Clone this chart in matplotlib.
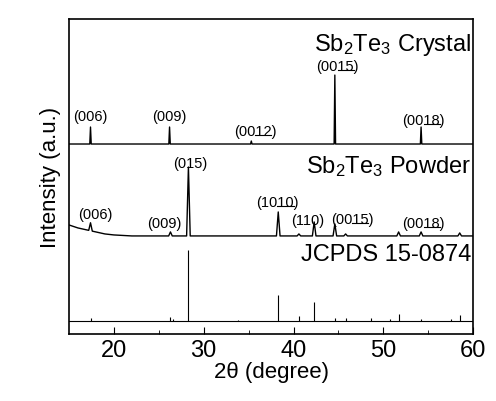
import matplotlib
matplotlib.use("Agg")
import matplotlib.pyplot as plt
import numpy as np
from matplotlib.lines import Line2D

plt.rcParams['font.family'] = ['Liberation Sans', 'DejaVu Sans']
plt.rcParams['mathtext.fontset'] = 'custom'
plt.rcParams['mathtext.rm'] = 'Liberation Sans'
plt.rcParams['mathtext.it'] = 'Liberation Sans'

# Crystal
cry_base = 190
cry_x = [17.4, 26.2, 35.3, 44.6, 54.2]
cry_h = [17, 17, 3, 69, 17]
cry_lab_x = [17.4, 26.2, 35.7, 44.9, 54.5]
cry_lab_y = [211, 211, 196, 261, 207]
cry_lab = [("(006)", ""), ("(009)", ""), ("(0012)", "12"), ("(0015)", "15"), ("(0018)", "18")]
# Powder
pow_bg_x = [15, 16, 17, 18, 19, 20, 22, 25, 60]
pow_bg_y = [109, 106, 104, 102, 100, 99, 98, 98, 98]
pow_x = [17.4, 26.3, 28.3, 38.3, 40.6, 42.3, 44.6, 45.8, 51.7, 54.2, 58.5]
pow_h = [8, 4, 69, 24, 2, 14, 12, 2, 4, 4, 3]
pow_lab_x = [17.9, 25.6, 28.5, 38.2, 41.6, 46.5, 54.5]
pow_lab_y = [113, 104, 164, 125, 107, 108, 104]
pow_lab = [("(006)", ""), ("(009)", ""), ("(015)", ""), ("(1010)", "10"), ("(110)", ""), ("(0015)", "15"), ("(0018)", "18")]
# JCPDS
ref_base = 13
ref_x = [17.4, 26.2, 26.6, 28.3, 33.8, 38.3, 40.6, 42.3, 44.6, 45.8, 48.6, 50.7, 51.7, 54.2, 57.5, 58.5]
ref_h = [3, 4, 2, 71, 1, 26, 5, 19, 3, 3, 3, 2, 7, 2, 2, 6]

fig = plt.figure(figsize=(4.96, 4.02), dpi=100)
ax = fig.add_axes([0.139, 0.167, 0.815, 0.783])
ax.set_xlim(15, 60)
ax.set_ylim(0, 315)

def peak_curve(xs, hs, base_x, base_y, w):
    X = list(base_x); Y = list(base_y)
    for x, h in zip(xs, hs):
        b = float(np.interp(x, base_x, base_y))
        X += [x - w, x, x + w]
        Y += [float(np.interp(x - w, base_x, base_y)), b + h, float(np.interp(x + w, base_x, base_y))]
    order = np.argsort(X, kind="stable")
    return np.array(X)[order], np.array(Y)[order]

cx, cy = peak_curve(cry_x, cry_h, [15, 60], [cry_base, cry_base], 0.08)
ax.plot(cx, cy, color="black", lw=1.0)
px, py = peak_curve(pow_x, pow_h, pow_bg_x, pow_bg_y, 0.2)
ax.plot(px, py, color="black", lw=1.0)
ax.axhline(ref_base, color="black", lw=0.8)
ax.vlines(ref_x, ref_base, [ref_base + h for h in ref_h], color="black", lw=0.8)

renderer = fig.canvas.get_renderer()
labels = list(zip(cry_lab_x, cry_lab_y, cry_lab)) + list(zip(pow_lab_x, pow_lab_y, pow_lab))
FS = 10.5
for x, y, (s, u) in labels:
    t = ax.text(x, y, s, ha="center", va="bottom", fontsize=FS)
    if u:
        bb = t.get_window_extent(renderer)
        pre = s[: s.rfind(u)]
        tp = fig.text(0, 0, pre, fontsize=FS)
        tu = fig.text(0, 0, pre + u, fontsize=FS)
        w0 = tp.get_window_extent(renderer).width
        w1 = tu.get_window_extent(renderer).width
        tp.remove(); tu.remove()
        yb = bb.y0 + 3.2
        inv = fig.transFigure.inverted()
        (fx0, fy), (fx1, _) = inv.transform([(bb.x0 + w0, yb), (bb.x0 + w1, yb)])
        fig.add_artist(Line2D([fx0, fx1], [fy, fy], color="black", lw=0.8))

ax.text(59.8, 290, r"Sb$_2$Te$_3$ Crystal", ha="right", va="center", fontsize=17)
ax.text(59.8, 168, r"Sb$_2$Te$_3$ Powder", ha="right", va="center", fontsize=17)
ax.text(59.8, 80, "JCPDS 15-0874", ha="right", va="center", fontsize=17)

ax.set_xticks([20, 30, 40, 50, 60])
ax.set_xticks([25, 35, 45, 55], minor=True)
ax.tick_params(axis="x", which="both", direction="in", labelsize=17)
ax.tick_params(axis="x", which="major", length=5)
ax.tick_params(axis="x", which="minor", length=3)
ax.set_yticks([])
ax.set_xlabel("2θ (degree)", fontsize=16, labelpad=0)
ax.set_ylabel("Intensity (a.u.)", fontsize=16, labelpad=6)
for s in ax.spines.values():
    s.set_linewidth(1.2)
fig.savefig("out.png", dpi=100)
